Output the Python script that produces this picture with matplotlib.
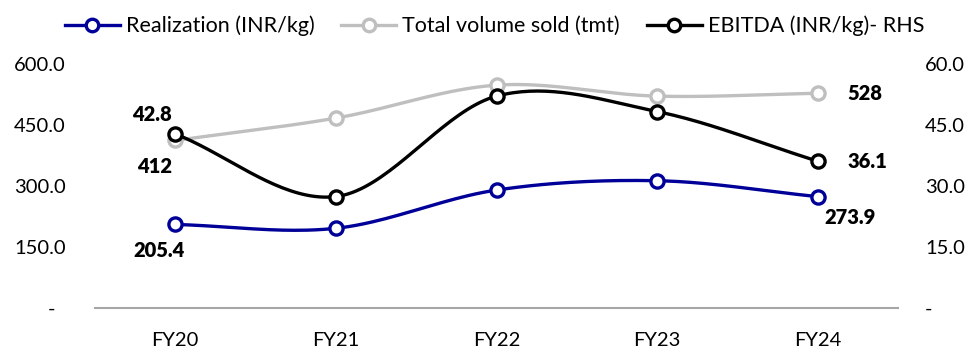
import numpy as np
import matplotlib.pyplot as plt

plt.rcParams['font.family'] = ['Lato', 'DejaVu Sans']

years = ['FY20', 'FY21', 'FY22', 'FY23', 'FY24']
realization = [205.4, 196.0, 290.0, 313.0, 273.9]
volume = [412, 467, 548, 521, 528]
ebitda = [42.8, 27.4, 52.1, 48.3, 36.1]

blue = '#000099'
grey = '#BFBFBF'
black = '#000000'


def smooth(x, y, n=40):
    # catmull-rom curve through the points, like a smoothed excel line
    x = np.asarray(x, float); y = np.asarray(y, float)
    px = np.concatenate([[2*x[0]-x[1]], x, [2*x[-1]-x[-2]]])
    py = np.concatenate([[2*y[0]-y[1]], y, [2*y[-1]-y[-2]]])
    xs, ys = [], []
    t = np.linspace(0, 1, n)
    for i in range(1, len(px)-2):
        for p, out in ((px, xs), (py, ys)):
            p0, p1, p2, p3 = p[i-1], p[i], p[i+1], p[i+2]
            out.append(0.5*((2*p1) + (-p0+p2)*t + (2*p0-5*p1+4*p2-p3)*t**2 + (-p0+3*p1-3*p2+p3)*t**3))
    return np.concatenate(xs), np.concatenate(ys)


fig = plt.figure(figsize=(9.73, 3.49), dpi=100)
ax = fig.add_axes([0.0976, 0.1175, 0.8254, 0.6991])
ax2 = ax.twinx()
x = np.arange(len(years))

lw = 2.4
mk = dict(marker='o', markersize=9.5, markerfacecolor='white', markeredgewidth=2.4, linestyle='none')
for a, vals, c in ((ax, volume, grey), (ax, realization, blue), (ax2, ebitda, black)):
    sx, sy = smooth(x, vals)
    a.plot(sx, sy, color=c, lw=lw, zorder=2)
    a.plot(x, vals, color=c, markeredgecolor=c, zorder=3, **mk)

ax.set_xlim(-0.5, 4.5)
ax.set_ylim(0, 600)
ax2.set_ylim(0, 60)
ax.set_xticks(x)
ax.set_xticklabels(years)
ax.set_yticks([0, 150, 300, 450, 600])
ax.set_yticklabels(['-  ', '150.0', '300.0', '450.0', '600.0'])
ax2.set_yticks([0, 15, 30, 45, 60])
ax2.set_yticklabels(['-', '15.0', '30.0', '45.0', '60.0'])
for a in (ax, ax2):
    for s in a.spines.values():
        s.set_visible(False)
    a.tick_params(length=0, labelsize=14.5, colors='#000000')
ax.spines['bottom'].set_visible(True)
ax.spines['bottom'].set_color('#A6A6A6')
ax.spines['bottom'].set_linewidth(1.5)
ax.tick_params(axis='x', pad=17)
ax.tick_params(axis='y', pad=21)
ax2.tick_params(axis='y', pad=19.5)

lb = dict(fontsize=14.5, fontweight='heavy', ha='center', va='center', textcoords='offset points')
ax.annotate('205.4', (0, realization[0]), xytext=(-12, -18.5), **lb)
ax.annotate('412', (0, volume[0]), xytext=(-15, -18.5), **lb)
ax2.annotate('42.8', (0, ebitda[0]), xytext=(-16.5, 13.7), **lb)
ax.annotate('528', (4, volume[4]), xytext=(34, 0), **lb)
ax2.annotate('36.1', (4, ebitda[4]), xytext=(36, 0), **lb)
ax.annotate('273.9', (4, realization[4]), xytext=(23, -14.7), **lb)

handles = [plt.Line2D([], [], color=c, lw=lw, marker='o', markersize=9, markerfacecolor='white',
                      markeredgecolor=c, markeredgewidth=2.4)
           for c in (blue, grey, black)]
fig.legend(handles, ['Realization (INR/kg)', 'Total volume sold (tmt)', 'EBITDA (INR/kg)- RHS'],
           loc='center', bbox_to_anchor=(0.508, 0.926), ncol=3, frameon=False, fontsize=15.5,
           handlelength=2.55, handletextpad=0.28, columnspacing=1.25, borderpad=0)

fig.savefig('out.png', dpi=100)
